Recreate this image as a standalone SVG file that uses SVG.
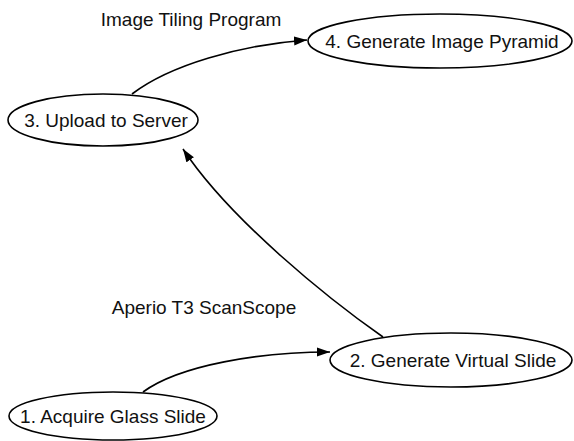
<svg xmlns="http://www.w3.org/2000/svg" width="574" height="441" viewBox="0 0 574 441">
<style>
.node ellipse{fill:#fff;stroke:#000;stroke-width:1.6}
.node text,.lbl{font-family:"Liberation Sans",Arial,sans-serif;font-size:19px;fill:#111;text-anchor:middle;dominant-baseline:central}
.edge{fill:none;stroke:#000;stroke-width:1.6}
</style>
<defs>
<marker id="ah" markerUnits="userSpaceOnUse" markerWidth="14" markerHeight="10" refX="13" refY="5" orient="auto">
<path d="M0,0.5 L13,5 L0,9.5 Z" fill="#000"/>
</marker>
</defs>
<g id="connectors">
<path class="edge" d="M143,392 C180,365 260,352 330,352" marker-end="url(#ah)"/>
<path class="edge" d="M383,337 C330,300 230,220 183,149" marker-end="url(#ah)"/>
<path class="edge" d="M132,94 C170,65 240,45 307,40" marker-end="url(#ah)"/>
<text class="lbl" x="191" y="19">Image Tiling Program</text>
<text class="lbl" x="204" y="307">Aperio T3 ScanScope</text>
</g>
<g id="n1" class="node"><ellipse cx="113" cy="416" rx="104" ry="24"/><text x="113" y="416">1. Acquire Glass Slide</text></g>
<g id="n2" class="node"><ellipse cx="451" cy="360" rx="121" ry="27"/><text x="453" y="360">2. Generate Virtual Slide</text></g>
<g id="n3" class="node"><ellipse cx="103" cy="120" rx="95" ry="26"/><text x="106" y="120">3. Upload to Server</text></g>
<g id="n4" class="node"><ellipse cx="440" cy="41" rx="132" ry="27"/><text x="442" y="41">4. Generate Image Pyramid</text></g>
</svg>
